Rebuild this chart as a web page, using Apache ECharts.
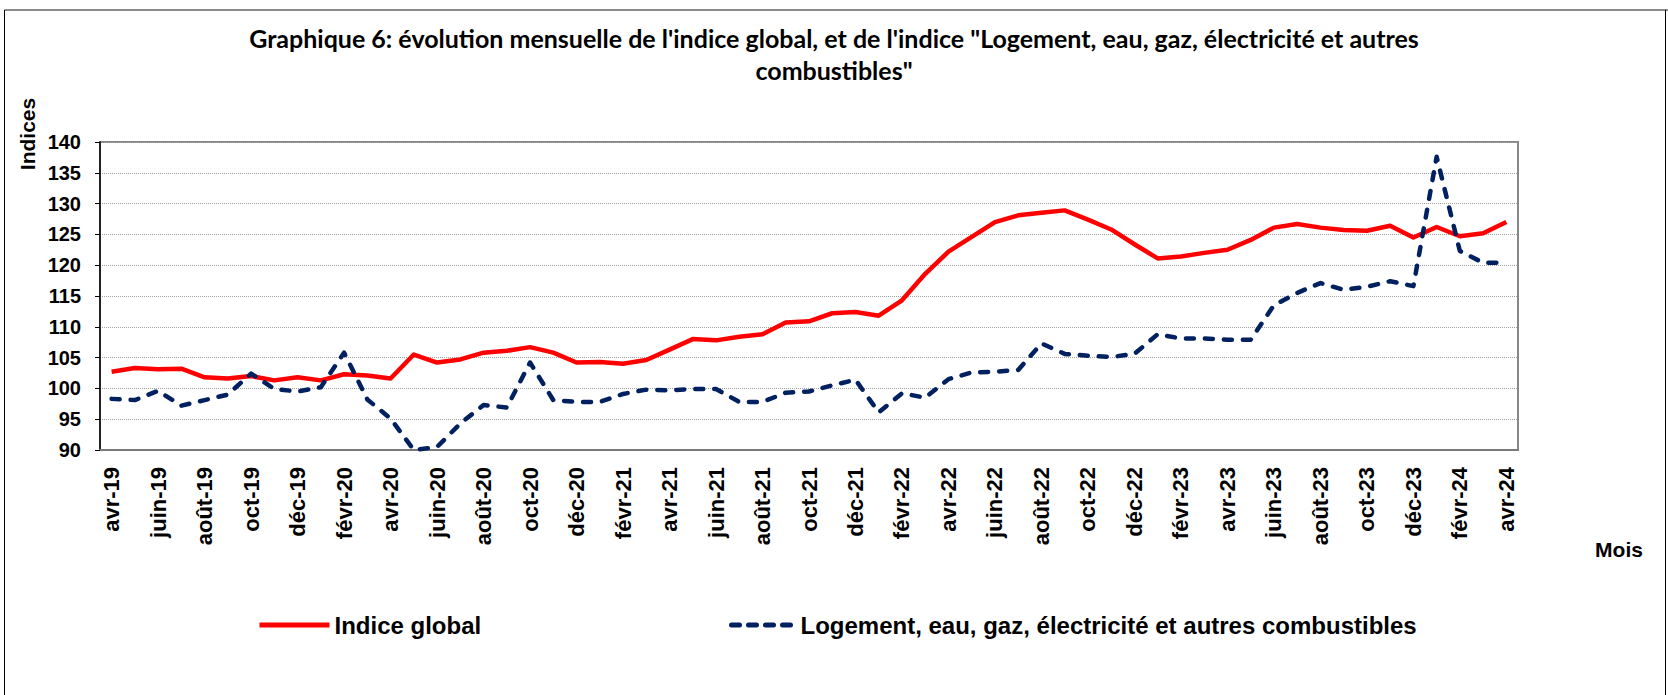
<html>
<head>
    <meta charset="utf-8">
    <title>Graphique 6</title>
    <script src="https://cdn.jsdelivr.net/npm/echarts@6/dist/echarts.min.js"></script>
    <style>
        html, body { margin: 0; padding: 0; background: #fff; }
        #main { width: 1668px; height: 695px; }
    </style>
</head>
<body>
    <div id="main"></div>
    <script>
        // mois, avr-19 -> avr-24
        var months = [
            'avr-19', 'mai-19', 'juin-19', 'juil-19', 'août-19', 'sept-19', 'oct-19', 'nov-19', 'déc-19',
            'janv-20', 'févr-20', 'mars-20', 'avr-20', 'mai-20', 'juin-20', 'juil-20', 'août-20', 'sept-20',
            'oct-20', 'nov-20', 'déc-20', 'janv-21', 'févr-21', 'mars-21', 'avr-21', 'mai-21', 'juin-21',
            'juil-21', 'août-21', 'sept-21', 'oct-21', 'nov-21', 'déc-21', 'janv-22', 'févr-22', 'mars-22',
            'avr-22', 'mai-22', 'juin-22', 'juil-22', 'août-22', 'sept-22', 'oct-22', 'nov-22', 'déc-22',
            'janv-23', 'févr-23', 'mars-23', 'avr-23', 'mai-23', 'juin-23', 'juil-23', 'août-23', 'sept-23',
            'oct-23', 'nov-23', 'déc-23', 'janv-24', 'févr-24', 'mars-24', 'avr-24'
        ];

        var indiceGlobal = [
            102.7, 103.3, 103.1, 103.2, 101.8, 101.6, 102.0, 101.3, 101.8,
            101.3, 102.3, 102.1, 101.6, 105.5, 104.2, 104.7, 105.8, 106.1,
            106.7, 105.8, 104.2, 104.3, 104.0, 104.6, 106.3, 108.0, 107.8,
            108.4, 108.8, 110.7, 110.9, 112.2, 112.4, 111.8, 114.3, 118.6,
            122.2, 124.6, 127.0, 128.1, 128.5, 128.9, 127.4, 125.8, 123.4,
            121.1, 121.4, 122.0, 122.5, 124.1, 126.1, 126.7, 126.1, 125.7,
            125.6, 126.4, 124.5, 126.2, 124.7, 125.2, 127.0
        ];

        var logement = [
            98.3, 98.1, 99.6, 97.2, 98.1, 99.0, 102.4, 99.9, 99.5,
            100.2, 105.8, 98.2, 95.1, 90.0, 90.5, 94.3, 97.3, 96.9,
            104.2, 98.1, 97.8, 97.8, 99.1, 99.8, 99.7, 99.9, 99.9,
            97.8, 97.8, 99.3, 99.5, 100.5, 101.4, 96.1, 99.2, 98.5,
            101.5, 102.6, 102.7, 103.0, 107.3, 105.6, 105.3, 105.1, 105.6,
            108.8, 108.1, 108.1, 107.9, 107.9, 113.5, 115.5, 117.1, 116.0,
            116.5, 117.4, 116.6, 137.6, 122.3, 120.4, 120.4
        ];

        var nomGlobal = 'Indice global';
        var nomLogement = 'Logement, eau, gaz, électricité et autres combustibles';

        var font = 'Liberation Sans, Arial, sans-serif';
        var myChart = echarts.init(document.getElementById('main'), null, { renderer: 'svg' });

        var option = {
            backgroundColor: '#fff',
            animation: false,
            title: {
                text: "Graphique 6: évolution mensuelle de l'indice global, et de l'indice \"Logement, eau, gaz, électricité et autres\ncombustibles\"",
                left: 829,
                top: 17,
                textAlign: 'center',
                textStyle: {
                    fontFamily: 'Lato, sans-serif',
                    fontWeight: 'bold',
                    fontSize: 25,
                    lineHeight: 32,
                    color: '#000'
                }
            },
            graphic: [
                // cadre du graphique
                { type: 'line', shape: { x1: 4.5, y1: 10, x2: 1668, y2: 10 }, style: { stroke: '#8a8a8a', lineWidth: 2 } },
                { type: 'line', shape: { x1: 4.5, y1: 10, x2: 4.5, y2: 695 }, style: { stroke: '#000', lineWidth: 1 } },
                { type: 'line', shape: { x1: 1665.5, y1: 10, x2: 1665.5, y2: 695 }, style: { stroke: '#000', lineWidth: 1 } },
                {
                    type: 'text', x: 27, y: 134, rotation: Math.PI / 2,
                    style: { text: 'Indices', font: 'bold 21px ' + font, fill: '#000', align: 'center', verticalAlign: 'middle' }
                },
                {
                    type: 'text', x: 1619, y: 549,
                    style: { text: 'Mois', font: 'bold 21px ' + font, fill: '#000', align: 'center', verticalAlign: 'middle' }
                }
            ],
            legend: [{
                data: [nomGlobal],
                left: 257,
                top: 613,
                padding: 0,
                itemWidth: 70,
                itemHeight: 6,
                itemStyle: { opacity: 0 },
                lineStyle: { width: 5, type: 'solid' },
                textStyle: { fontFamily: font, fontWeight: 'bold', fontSize: 24, color: '#000' }
            }, {
                data: [nomLogement],
                left: 729,
                top: 613,
                padding: 0,
                itemWidth: 64,
                itemHeight: 6,
                itemStyle: { opacity: 0 },
                lineStyle: { width: 5, type: [8, 9], cap: 'round' },
                textStyle: { fontFamily: font, fontWeight: 'bold', fontSize: 24, color: '#000' }
            }],
            grid: {
                left: 100,
                right: 150,
                top: 142,
                bottom: 245,
                show: true,
                borderColor: '#878787',
                borderWidth: 2,
                backgroundColor: '#fff'
            },
            xAxis: {
                type: 'category',
                data: months,
                boundaryGap: true,
                axisLine: { lineStyle: { color: '#7a7a7a', width: 2 } },
                axisTick: { interval: 0, length: 6, lineStyle: { color: '#000', width: 1 } },
                axisLabel: {
                    interval: 1,
                    rotate: 90,
                    margin: 17,
                    fontFamily: font,
                    fontWeight: 'bold',
                    fontSize: 22,
                    color: '#000'
                },
                splitLine: { show: false }
            },
            yAxis: {
                type: 'value',
                min: 90,
                max: 140,
                interval: 5,
                axisLine: { show: true, lineStyle: { color: '#000', width: 1.5 } },
                axisTick: { show: true, inside: false, length: 5, lineStyle: { color: '#000' } },
                axisLabel: {
                    margin: 19,
                    fontFamily: font,
                    fontWeight: 'bold',
                    fontSize: 20,
                    color: '#000'
                },
                splitLine: { show: true, lineStyle: { color: '#a0a0a0', width: 1, type: 'dotted' } }
            },
            series: [{
                name: nomGlobal,
                type: 'line',
                data: indiceGlobal,
                symbol: 'none',
                lineStyle: { color: '#ff0000', width: 4.5, join: 'round' },
                itemStyle: { color: '#ff0000' },
                z: 3
            }, {
                name: nomLogement,
                type: 'line',
                data: logement,
                symbol: 'none',
                lineStyle: { color: '#002060', width: 4.5, type: [8, 11], cap: 'round', join: 'round' },
                itemStyle: { color: '#002060' },
                z: 4
            }]
        };
        myChart.setOption(option);
    </script>
</body>
</html>
